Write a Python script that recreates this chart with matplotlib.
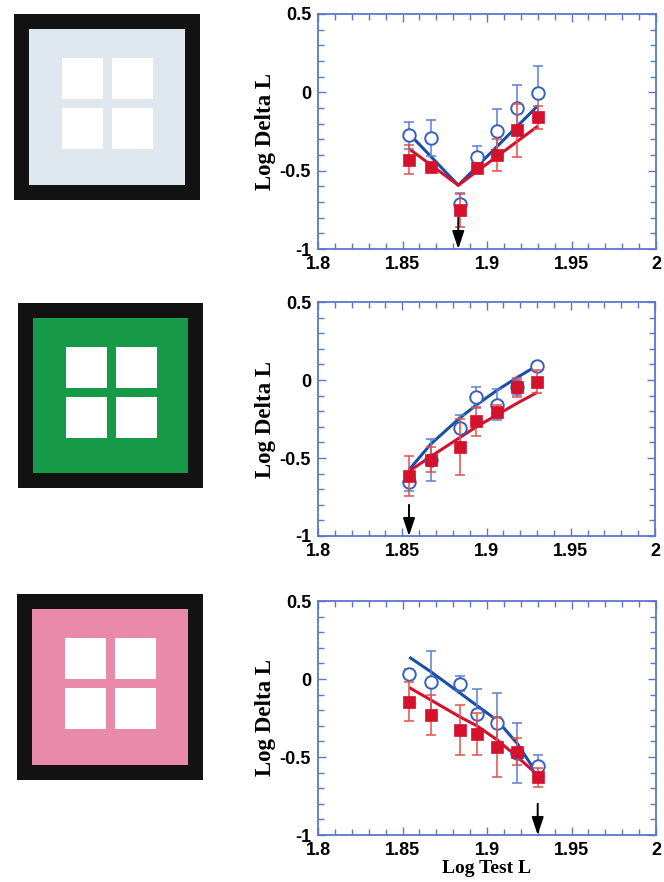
import matplotlib
matplotlib.use("Agg")
import matplotlib.pyplot as plt
from matplotlib.patches import Rectangle
from matplotlib.ticker import MultipleLocator, FixedLocator

# ---- data -------------------------------------------------------------
log_test = [1.854, 1.867, 1.884, 1.894, 1.906, 1.918, 1.930]

# panel 1: light grey surround
p1_open_y = [-0.274, -0.289, -0.710, -0.412, -0.248, -0.097, -0.003]
p1_open_err = [0.085, 0.115, 0.070, 0.070, 0.140, 0.143, 0.170]
p1_fill_y = [-0.429, -0.476, -0.753, -0.480, -0.400, -0.242, -0.160]
p1_fill_err = [0.090, 0.030, 0.105, 0.030, 0.100, 0.170, 0.072]
p1_fit_x = [1.854, 1.883, 1.930]
p1_open_fit = [-0.265, -0.593, -0.086]
p1_fill_fit = [-0.361, -0.593, -0.216]
p1_arrow = 1.883

# panel 2: green surround
p2_open_y = [-0.651, -0.512, -0.309, -0.112, -0.159, -0.048, 0.087]
p2_open_err = [0.060, 0.135, 0.086, 0.070, 0.100, 0.050, 0.030]
p2_fill_y = [-0.615, -0.512, -0.431, -0.266, -0.202, -0.046, -0.010]
p2_fill_err = [0.130, 0.080, 0.180, 0.090, 0.040, 0.060, 0.075]
p2_fit_x = [1.854, 1.867, 1.884, 1.894, 1.906, 1.918, 1.930]
p2_open_fit = [-0.576, -0.410, -0.245, -0.160, -0.068, 0.015, 0.092]
p2_fill_fit = [-0.585, -0.490, -0.370, -0.300, -0.225, -0.150, -0.080]
p2_arrow = 1.854

# panel 3: pink surround
p3_open_y = [0.035, -0.018, -0.029, -0.225, -0.281, -0.475, -0.558]
p3_open_err = [0.030, 0.200, 0.047, 0.158, 0.190, 0.194, 0.070]
p3_fill_y = [-0.146, -0.232, -0.324, -0.353, -0.435, -0.467, -0.631]
p3_fill_err = [0.125, 0.130, 0.160, 0.135, 0.190, 0.086, 0.060]
p3_fit_x = [1.854, 1.867, 1.884, 1.894, 1.906, 1.918, 1.930]
p3_open_fit = [0.140, 0.045, -0.090, -0.170, -0.265, -0.415, -0.615]
p3_fill_fit = [-0.055, -0.136, -0.243, -0.300, -0.390, -0.500, -0.615]
p3_arrow = 1.930

surround_colors = ["#dfe8ee", "#179a47", "#e98aab"]

x_ticks = [1.8, 1.85, 1.9, 1.95, 2.0]
x_tick_labels = ["1.8", "1.85", "1.9", "1.95", "2"]
y_ticks = [-1.0, -0.5, 0.0, 0.5]
y_tick_labels = ["-1", "-0.5", "0", "0.5"]

panels = [
    (p1_open_y, p1_open_err, p1_fill_y, p1_fill_err, p1_fit_x, p1_open_fit, p1_fill_fit, p1_arrow),
    (p2_open_y, p2_open_err, p2_fill_y, p2_fill_err, p2_fit_x, p2_open_fit, p2_fill_fit, p2_arrow),
    (p3_open_y, p3_open_err, p3_fill_y, p3_fill_err, p3_fit_x, p3_open_fit, p3_fill_fit, p3_arrow),
]

# ---- styling ----------------------------------------------------------
BLUE_LINE = "#1c4ea6"
BLUE_MARK = "#3560c2"
BLUE_BAR = "#5b7fcf"
RED = "#d4122e"
RED_BAR = "#e0504a"
SPINE = "#5a78c8"

W, H = 664, 882
fig = plt.figure(figsize=(W / 100, H / 100), dpi=100)

# stimulus illustrations (pixel-space canvas)
canvas = fig.add_axes([0, 0, 1, 1], zorder=0)
canvas.set_xlim(0, W)
canvas.set_ylim(H, 0)
canvas.axis("off")
square_boxes = [(14, 14, 186), (18, 303, 185), (17, 594, 186)]
border = 15
win, pitch = 41, 50
for (sx, sy, size), col in zip(square_boxes, surround_colors):
    canvas.add_patch(Rectangle((sx, sy), size, size, facecolor="#121212", edgecolor="none"))
    canvas.add_patch(Rectangle((sx + border, sy + border), size - 2 * border, size - 2 * border,
                               facecolor=col, edgecolor="none"))
    for i in range(2):
        for j in range(2):
            canvas.add_patch(Rectangle((sx + 48 + i * pitch, sy + 44 + j * pitch), win, win,
                                       facecolor="white", edgecolor="none"))

# data panels
axes_px = [(318, 14, 338, 235), (318, 302, 337, 234), (318, 601, 338, 234)]
tick_font = {"family": ["Liberation Sans", "DejaVu Sans"], "weight": "bold", "size": 13}
label_font = ["Liberation Serif", "DejaVu Serif"]

for k, ((l, t, w, h), pdata) in enumerate(zip(axes_px, panels)):
    open_y, open_err, fill_y, fill_err, fit_x, open_fit, fill_fit, arrow_x = pdata
    ax = fig.add_axes([l / W, 1 - (t + h) / H, w / W, h / H], zorder=1)
    ax.set_xlim(1.8, 2.0)
    ax.set_ylim(-1.0, 0.5)

    # fitted curves
    ax.plot(fit_x, open_fit, color=BLUE_LINE, lw=2.2, zorder=2, solid_capstyle="butt")
    ax.plot(fit_x, fill_fit, color=RED, lw=2.2, zorder=3, solid_capstyle="butt")

    # open circles with error bars
    ax.errorbar(log_test, open_y, yerr=open_err, fmt="none", ecolor=BLUE_BAR,
                elinewidth=1.1, capsize=3.5, capthick=1.1, zorder=4)
    ax.plot(log_test, open_y, "o", ms=9, mfc="white", mec=BLUE_MARK, mew=1.4, zorder=5)

    # filled squares with error bars
    ax.errorbar(log_test, fill_y, yerr=fill_err, fmt="none", ecolor=RED_BAR,
                elinewidth=1.1, capsize=3.5, capthick=1.1, zorder=6)
    ax.plot(log_test, fill_y, "s", ms=8.5, mfc=RED, mec=RED, mew=0.5, zorder=7)

    # arrow marking the surround luminance
    ax.annotate("", xy=(arrow_x, -1.0), xytext=(arrow_x, -0.8),
                arrowprops=dict(arrowstyle="-|>,head_length=0.6,head_width=0.2",
                                color="black", lw=1.4, mutation_scale=18,
                                shrinkA=0, shrinkB=0),
                zorder=8, annotation_clip=False)

    for sp in ax.spines.values():
        sp.set_color(SPINE)
        sp.set_linewidth(1.3)
    ax.xaxis.set_major_locator(FixedLocator(x_ticks))
    ax.xaxis.set_minor_locator(MultipleLocator(0.01))
    ax.yaxis.set_major_locator(FixedLocator(y_ticks))
    ax.yaxis.set_minor_locator(MultipleLocator(0.1))
    ax.set_xticklabels(x_tick_labels, fontdict=tick_font)
    ax.set_yticklabels(y_tick_labels, fontdict=tick_font)
    ax.tick_params(which="both", direction="in", top=True, right=True, color=SPINE, width=1.0)
    ax.tick_params(which="major", length=6, pad=5)
    ax.tick_params(which="minor", length=4)

    ax.set_ylabel("Log Delta L", family=label_font, weight="bold", size=16.5, labelpad=3)
    if k == 2:
        ax.set_xlabel("Log Test L", family=label_font, weight="bold", size=14, labelpad=1)

fig.savefig("out.png", dpi=100)
